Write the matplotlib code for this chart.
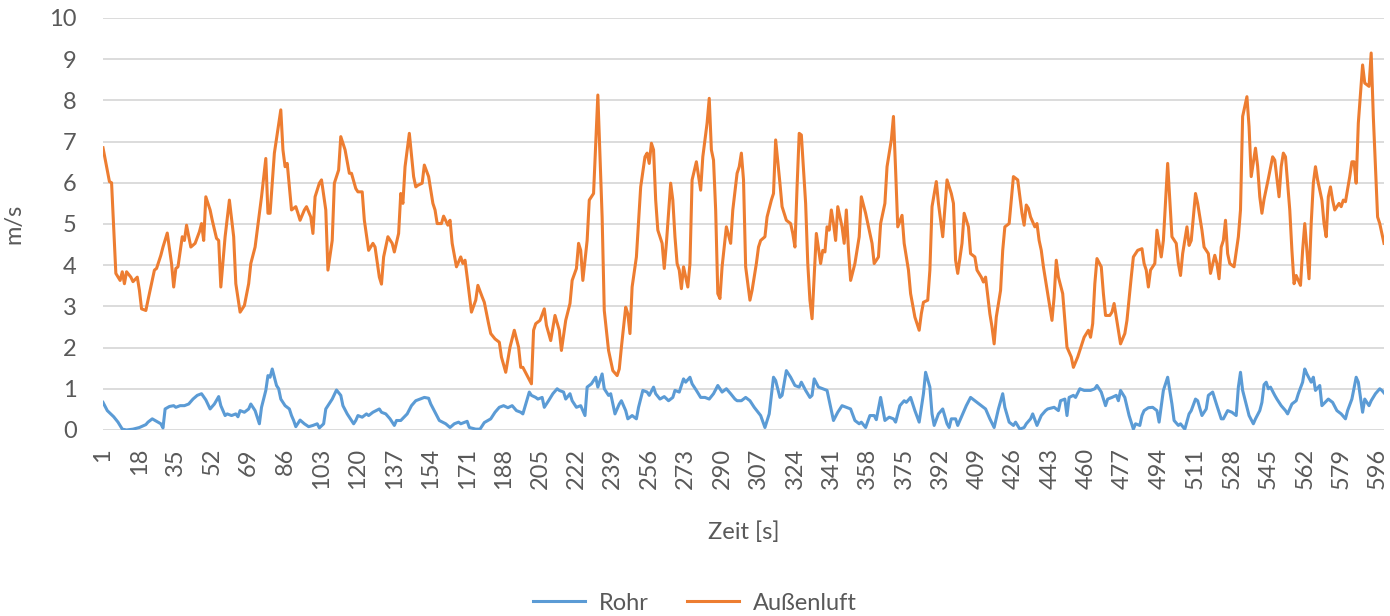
import matplotlib
matplotlib.use("Agg")
import matplotlib.pyplot as plt

# Außenluft (orange) - time [s] and speed [m/s]
luft_t = [1, 4, 5, 7, 9, 10, 11, 12, 14, 15, 17, 18, 19, 21, 22, 24, 25, 26, 28, 29,
          31, 33, 34, 35, 36, 38, 39, 40, 42, 44, 46, 47, 48, 49, 51, 52, 54, 55, 56, 58,
          60, 62, 63, 65, 67, 69, 70, 72, 73, 75, 77, 78, 79, 81, 84, 85, 86, 87, 89, 91,
          92, 93, 95, 96, 98, 99, 100, 102, 103, 105, 106, 108, 109, 111, 112, 114, 116, 117, 119, 120,
          122, 123, 125, 127, 128, 130, 131, 132, 134, 136, 137, 139, 140, 141, 142, 144, 146, 147, 148, 150,
          151, 153, 155, 156, 157, 159, 160, 162, 163, 164, 166, 168, 169, 170, 171, 173, 175, 176, 178, 179,
          181, 182, 184, 186, 187, 189, 191, 193, 195, 196, 197, 199, 201, 202, 203, 205, 207, 208, 210, 212,
          214, 215, 217, 219, 220, 222, 223, 224, 225, 227, 228, 230, 232, 234, 235, 237, 239, 241, 242, 243,
          245, 246, 247, 248, 250, 252, 254, 255, 256, 257, 258, 259, 260, 262, 263, 264, 266, 267, 268, 269,
          270, 271, 272, 274, 275, 276, 278, 280, 281, 283, 284, 285, 286, 287, 288, 289, 290, 292, 294, 295,
          297, 298, 299, 300, 301, 303, 304, 305, 306, 307, 308, 310, 311, 313, 314, 315, 317, 318, 320, 322,
          323, 324, 325, 326, 327, 329, 330, 331, 332, 333, 334, 336, 337, 338, 339, 340, 341, 342, 343, 344,
          345, 346, 347, 348, 349, 350, 352, 354, 355, 357, 359, 360, 361, 362, 363, 364, 366, 367, 369, 370,
          371, 372, 374, 375, 377, 378, 380, 382, 383, 384, 386, 387, 388, 390, 391, 393, 395, 397, 398, 399,
          400, 402, 403, 405, 406, 408, 409, 411, 412, 413, 415, 416, 417, 418, 420, 421, 422, 424, 426, 427,
          428, 430, 431, 432, 433, 434, 436, 437, 438, 439, 440, 442, 444, 445, 446, 447, 449, 450, 451, 453,
          454, 456, 457, 459, 461, 462, 463, 464, 465, 467, 468, 469, 471, 472, 473, 475, 476, 478, 479, 481,
          482, 484, 486, 487, 488, 489, 490, 492, 493, 495, 496, 498, 499, 500, 502, 503, 504, 505, 507, 508,
          509, 511, 512, 514, 515, 517, 518, 520, 521, 522, 523, 524, 525, 526, 527, 529, 531, 532, 533, 535,
          536, 537, 539, 540, 541, 542, 543, 545, 547, 548, 550, 551, 552, 553, 555, 556, 557, 558, 560, 561,
          562, 563, 564, 565, 566, 567, 568, 570, 571, 572, 573, 574, 575, 576, 578, 579, 580, 581, 583, 584,
          585, 586, 587, 589, 590, 592, 593, 594, 596, 597, 599]
luft_v = [6.85, 6.03, 6.0, 3.8, 3.63, 3.84, 3.55, 3.84, 3.71, 3.6, 3.71, 3.39, 2.94, 2.9, 3.15, 3.63, 3.88, 3.92, 4.24, 4.44,
          4.78, 4.04, 3.47, 3.92, 3.96, 4.69, 4.6, 4.97, 4.44, 4.53, 4.81, 5.01, 4.6, 5.66, 5.34, 5.09, 4.65, 4.6, 3.47, 4.69,
          5.58, 4.69, 3.55, 2.86, 3.02, 3.55, 4.04, 4.44, 4.85, 5.66, 6.59, 5.26, 5.26, 6.72, 7.77, 6.8, 6.39, 6.47, 5.34, 5.42,
          5.26, 5.09, 5.34, 5.42, 5.17, 4.77, 5.66, 5.99, 6.07, 5.34, 3.88, 4.6, 5.99, 6.31, 7.12, 6.8, 6.23, 6.23, 5.86, 5.78,
          5.78, 5.09, 4.36, 4.53, 4.44, 3.71, 3.54, 4.2, 4.69, 4.53, 4.32, 4.77, 5.74, 5.5, 6.39, 7.2, 6.15, 5.9, 5.94, 5.99,
          6.43, 6.15, 5.5, 5.34, 5.01, 5.01, 5.19, 4.97, 5.09, 4.53, 3.96, 4.2, 4.04, 4.12, 3.71, 2.86, 3.15, 3.51, 3.23, 3.1,
          2.58, 2.34, 2.21, 2.13, 1.77, 1.4, 2.01, 2.42, 2.01, 1.52, 1.52, 1.32, 1.12, 2.42, 2.58, 2.66, 2.94, 2.54, 2.17, 2.78,
          2.42, 1.93, 2.66, 3.07, 3.63, 3.92, 4.53, 4.36, 3.63, 4.6, 5.58, 5.74, 8.13, 5.17, 2.9, 1.93, 1.44, 1.32, 1.48, 2.01,
          2.98, 2.82, 2.34, 3.47, 4.2, 5.9, 6.63, 6.72, 6.47, 6.96, 6.8, 5.58, 4.85, 4.53, 3.92, 4.53, 5.99, 5.58, 4.69, 4.04,
          3.88, 3.43, 3.96, 3.47, 4.04, 6.07, 6.51, 5.82, 6.63, 7.45, 8.05, 6.8, 6.55, 5.34, 3.31, 3.19, 3.96, 4.93, 4.53, 5.34,
          6.23, 6.39, 6.72, 6.07, 3.96, 3.15, 3.39, 3.71, 4.04, 4.44, 4.6, 4.69, 5.17, 5.58, 5.74, 7.04, 5.99, 5.42, 5.09, 5.01,
          4.77, 4.44, 5.9, 7.2, 7.16, 5.5, 4.04, 3.15, 2.7, 3.71, 4.77, 4.04, 4.36, 4.32, 4.93, 4.85, 5.34, 5.01, 4.6, 5.42,
          5.17, 4.93, 4.53, 5.34, 4.36, 3.63, 4.04, 4.69, 5.66, 5.26, 4.77, 4.53, 4.04, 4.12, 4.2, 5.01, 5.5, 6.39, 7.04, 7.61,
          6.31, 4.93, 5.21, 4.53, 3.88, 3.31, 2.74, 2.42, 2.82, 3.1, 3.15, 3.88, 5.42, 6.03, 5.5, 4.69, 6.07, 5.74, 5.5, 4.12,
          3.8, 4.53, 5.26, 4.93, 4.28, 4.2, 3.88, 3.71, 3.59, 3.71, 2.82, 2.5, 2.09, 2.74, 3.39, 4.36, 4.93, 5.01, 6.15, 6.11,
          6.07, 5.26, 4.97, 5.46, 5.38, 5.17, 4.93, 5.01, 4.6, 4.36, 3.96, 3.31, 2.66, 3.23, 4.12, 3.71, 3.31, 2.66, 2.01, 1.77,
          1.52, 1.77, 1.93, 2.25, 2.42, 2.25, 2.58, 3.55, 4.16, 3.96, 3.31, 2.78, 2.78, 2.86, 3.07, 2.42, 2.09, 2.34, 2.66, 3.71,
          4.2, 4.36, 4.4, 4.04, 3.88, 3.47, 3.88, 4.04, 4.85, 4.2, 4.6, 6.47, 5.58, 4.69, 4.53, 4.04, 3.75, 4.28, 4.93, 4.48,
          4.6, 5.74, 5.5, 4.85, 4.44, 4.28, 3.8, 4.24, 4.04, 3.67, 4.44, 4.6, 5.09, 4.28, 4.04, 3.96, 4.69, 5.34, 7.61, 8.09,
          7.36, 6.15, 6.84, 6.4, 5.66, 5.26, 5.6, 6.1, 6.63, 6.55, 5.66, 6.39, 6.72, 6.63, 5.34, 4.36, 3.55, 3.75, 3.51, 4.36,
          5.01, 4.36, 3.67, 5.01, 5.99, 6.39, 6.07, 5.58, 5.01, 4.69, 5.66, 5.9, 5.58, 5.34, 5.5, 5.42, 5.58, 5.54, 6.15, 6.51,
          6.51, 5.99, 7.45, 8.86, 8.42, 8.34, 9.15, 7.61, 5.17, 5.01, 4.53]

# Rohr (blue)
rohr_t = [1, 3, 5, 6, 8, 10, 12, 15, 18, 21, 22, 24, 26, 28, 29, 30, 32, 34, 35, 37,
          39, 41, 43, 45, 47, 49, 51, 53, 55, 56, 58, 59, 61, 63, 64, 65, 67, 69, 70, 72,
          74, 75, 77, 78, 79, 80, 82, 83, 84, 86, 88, 89, 90, 91, 93, 95, 97, 99, 101, 102,
          104, 105, 108, 110, 112, 113, 115, 116, 118, 119, 120, 122, 124, 125, 127, 130, 131, 133, 135, 137,
          138, 140, 143, 145, 147, 149, 151, 153, 154, 156, 158, 161, 163, 165, 167, 168, 171, 172, 175, 177,
          179, 182, 184, 186, 188, 190, 192, 194, 196, 197, 200, 201, 203, 204, 206, 207, 209, 211, 213, 214,
          216, 217, 219, 220, 222, 224, 226, 227, 229, 231, 232, 234, 235, 237, 238, 240, 242, 243, 245, 246,
          248, 250, 251, 253, 255, 256, 258, 259, 261, 263, 265, 267, 268, 270, 272, 273, 275, 276, 278, 280,
          282, 284, 286, 288, 290, 292, 294, 296, 297, 299, 301, 303, 305, 308, 310, 312, 314, 315, 317, 318,
          320, 322, 324, 326, 327, 329, 331, 332, 333, 335, 337, 339, 341, 342, 344, 346, 348, 350, 352, 354,
          355, 357, 359, 361, 362, 364, 366, 368, 370, 371, 373, 375, 376, 378, 380, 382, 384, 385, 387, 388,
          389, 391, 393, 395, 396, 397, 399, 400, 402, 404, 406, 408, 410, 413, 415, 417, 419, 421, 422, 424,
          426, 427, 429, 431, 432, 434, 435, 437, 439, 441, 442, 445, 447, 448, 450, 451, 452, 454, 455, 457,
          459, 462, 464, 465, 467, 469, 470, 472, 474, 475, 476, 478, 480, 482, 483, 485, 486, 487, 489, 491,
          493, 494, 496, 498, 500, 501, 503, 504, 506, 508, 509, 511, 512, 514, 516, 517, 519, 521, 523, 524,
          526, 528, 530, 531, 532, 533, 535, 536, 538, 539, 541, 542, 543, 544, 545, 546, 548, 549, 551, 553,
          554, 556, 558, 559, 561, 562, 563, 565, 566, 567, 569, 570, 573, 575, 577, 579, 581, 582, 584, 586,
          587, 589, 590, 592, 593, 595, 597, 598, 599]
rohr_v = [0.67, 0.47, 0.37, 0.32, 0.19, 0.02, 0.0, 0.02, 0.06, 0.13, 0.19, 0.27, 0.21, 0.15, 0.05, 0.51, 0.57, 0.59, 0.55, 0.59,
          0.59, 0.63, 0.75, 0.84, 0.88, 0.73, 0.51, 0.63, 0.81, 0.59, 0.35, 0.39, 0.35, 0.39, 0.32, 0.47, 0.43, 0.51, 0.63, 0.47,
          0.15, 0.55, 0.96, 1.32, 1.28, 1.48, 1.08, 1.0, 0.75, 0.59, 0.51, 0.35, 0.23, 0.08, 0.24, 0.15, 0.08, 0.11, 0.15, 0.05,
          0.15, 0.51, 0.75, 0.97, 0.84, 0.59, 0.39, 0.31, 0.15, 0.23, 0.35, 0.31, 0.39, 0.35, 0.43, 0.51, 0.43, 0.39, 0.27, 0.11,
          0.23, 0.23, 0.39, 0.59, 0.71, 0.75, 0.79, 0.77, 0.63, 0.43, 0.23, 0.15, 0.06, 0.15, 0.19, 0.15, 0.21, 0.06, 0.02, 0.02,
          0.18, 0.27, 0.43, 0.55, 0.59, 0.54, 0.59, 0.47, 0.43, 0.39, 0.92, 0.84, 0.79, 0.75, 0.79, 0.55, 0.71, 0.88, 1.0, 0.96,
          0.92, 0.75, 0.88, 0.71, 0.55, 0.59, 0.35, 1.04, 1.12, 1.28, 1.04, 1.36, 1.0, 0.84, 0.88, 0.39, 0.63, 0.71, 0.47, 0.27,
          0.35, 0.27, 0.55, 0.96, 0.92, 0.84, 1.04, 0.88, 0.75, 0.81, 0.71, 0.79, 0.96, 0.92, 1.24, 1.16, 1.28, 1.12, 0.96, 0.79,
          0.79, 0.75, 0.88, 1.08, 0.92, 1.0, 0.88, 0.75, 0.71, 0.71, 0.79, 0.71, 0.55, 0.35, 0.06, 0.39, 1.28, 1.2, 0.79, 0.84,
          1.44, 1.28, 1.08, 1.04, 1.16, 0.96, 0.79, 0.84, 1.24, 1.04, 1.0, 0.96, 0.47, 0.23, 0.43, 0.59, 0.55, 0.51, 0.23, 0.15,
          0.19, 0.06, 0.35, 0.35, 0.25, 0.79, 0.23, 0.31, 0.27, 0.19, 0.59, 0.71, 0.67, 0.79, 0.47, 0.19, 0.88, 1.4, 1.04, 0.39,
          0.11, 0.39, 0.51, 0.15, 0.06, 0.27, 0.27, 0.11, 0.35, 0.59, 0.79, 0.71, 0.63, 0.51, 0.27, 0.06, 0.51, 0.88, 0.55, 0.19,
          0.11, 0.19, 0.02, 0.06, 0.15, 0.27, 0.39, 0.11, 0.35, 0.47, 0.51, 0.55, 0.47, 0.71, 0.75, 0.35, 0.79, 0.84, 0.79, 1.0,
          0.96, 0.96, 1.0, 1.08, 0.92, 0.59, 0.75, 0.79, 0.84, 0.71, 0.96, 0.79, 0.35, 0.02, 0.15, 0.11, 0.35, 0.47, 0.54, 0.55,
          0.47, 0.19, 0.96, 1.28, 0.63, 0.23, 0.11, 0.15, 0.02, 0.39, 0.47, 0.75, 0.71, 0.35, 0.51, 0.84, 0.92, 0.59, 0.27, 0.27,
          0.47, 0.43, 0.35, 1.04, 1.4, 0.96, 0.55, 0.35, 0.15, 0.27, 0.47, 0.67, 1.1, 1.16, 1.0, 1.04, 0.84, 0.75, 0.59, 0.47,
          0.39, 0.63, 0.71, 0.88, 1.16, 1.48, 1.36, 1.16, 1.28, 0.96, 1.08, 0.59, 0.75, 0.67, 0.47, 0.39, 0.27, 0.47, 0.75, 1.28,
          1.16, 0.43, 0.75, 0.59, 0.71, 0.88, 1.0, 0.96, 0.9]

x_ticks = list(range(1, 600, 17))
y_ticks = list(range(0, 11))

text_col = "#595959"
plt.rcParams["font.family"] = ["Lato", "DejaVu Sans"]

fig = plt.figure(figsize=(13.9, 6.16), dpi=100)
ax = fig.add_axes([0.0741, 0.302, 0.9216, 0.6688])

ax.plot(rohr_t, rohr_v, color="#5B9BD5", lw=2.2, label="Rohr")
ax.plot(luft_t, luft_v, color="#ED7D31", lw=2.2, label="Außenluft")

ax.set_xlim(1, 599)
ax.set_ylim(0, 10)
ax.set_xticks(x_ticks)
ax.set_yticks(y_ticks)
ax.tick_params(axis="x", length=0, pad=13, labelrotation=90, labelsize=17, colors=text_col)
ax.tick_params(axis="y", length=0, pad=19, labelsize=17, colors=text_col)
ax.grid(axis="y", color="#D9D9D9", lw=1.3)
ax.set_axisbelow(True)
for s in ax.spines.values():
    s.set_visible(False)

ax.set_xlabel("Zeit [s]", fontsize=17, color=text_col)
ax.xaxis.set_label_coords(0.5, -0.223)
ax.set_ylabel("m/s", fontsize=17, color=text_col)
ax.yaxis.set_label_coords(-0.061, 0.5)

fig.legend(loc="center", bbox_to_anchor=(0.5, 0.021), ncol=2, frameon=False,
           fontsize=17, labelcolor=text_col, handlelength=2.2, handletextpad=0.6,
           columnspacing=1.6)

plt.savefig("out.png", dpi=100)
plt.close()
